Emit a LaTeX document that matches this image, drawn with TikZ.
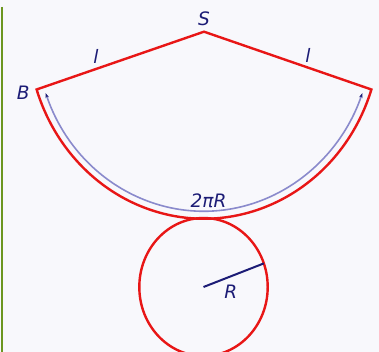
\documentclass[tikz,border=0pt]{standalone}
\usepackage{fontspec}
\setmainfont{DejaVu Sans}
\usepackage{xcolor}
\usetikzlibrary{calc, arrows.meta}

\definecolor{conered}{RGB}{232,22,22}
\definecolor{arcblue}{RGB}{138,138,204}
\definecolor{inkblue}{RGB}{28,28,118}
\definecolor{bargreen}{RGB}{108,150,32}
\definecolor{paper}{RGB}{248,248,252}

\begin{document}
\begin{tikzpicture}[x=1pt, y=-1pt]

        % 1. Styles for the lines and the labels
        \tikzset{coneline/.style={conered, line width=2.4pt, line join=miter}}
        \tikzset{arcline/.style={arcblue, line width=1.6pt, {Stealth[length=5pt, width=3.5pt, color=inkblue]}-{Stealth[length=5pt, width=3.5pt, color=inkblue]}}}
        \tikzset{radline/.style={inkblue, line width=2pt}}
        \tikzset{tag/.style={text=inkblue, font=\fontsize{18.5}{20}\selectfont\itshape, inner sep=0pt}}

        % 2. Paper and the bar on the left
        \useasboundingbox[fill=paper] (0,0) rectangle (379,352);
        \draw[bargreen, line width=2.4pt] (2.2,7) -- (2.2,352);

        % 3. Define the coordinates of the cone net
        \pgfmathsetmacro{\rx}{176} % Horizontal radius of the sector
        \pgfmathsetmacro{\ry}{187} % Vertical radius of the sector

        \coordinate (S) at (204,31.7);                    % Apex
        \coordinate (B) at ($(S)+(162:{\rx} and {\ry})$); % Left corner
        \coordinate (A) at ($(S)+(18:{\rx} and {\ry})$);  % Right corner

        % Base circle, just below the sector
        \coordinate (O) at (203.5,287);
        \coordinate (P) at ($(O)+(-20:64.2 and 69)$);

        % 4. Draw the sector and the arc of length 2 pi R
        \draw[coneline] (B) -- (S) -- (A) arc[start angle=18, end angle=162, x radius=\rx, y radius=\ry] -- cycle;
        \draw[arcline] ($(S)+(160:168.5 and 179.5)$) arc[start angle=160, end angle=20, x radius=168.5, y radius=179.5];

        % 5. Draw the base circle and its radius
        \draw[coneline] (O) ellipse[x radius=64.2, y radius=69];
        \draw[radline] (O) -- (P);

        % 6. Labels
        \node[tag] (labS) at (204,19) {S};
        \node[tag] (labB) at (23.3,92.7) {B};
        \node[tag] (labL) at (96,56) {l};
        \node[tag] (labLr) at (308,55) {l};
        \node[tag] (labArc) at (208.5,200.5) {2πR};
        \node[tag] (labR) at (230.7,292) {R};

    \end{tikzpicture}
\end{document}
